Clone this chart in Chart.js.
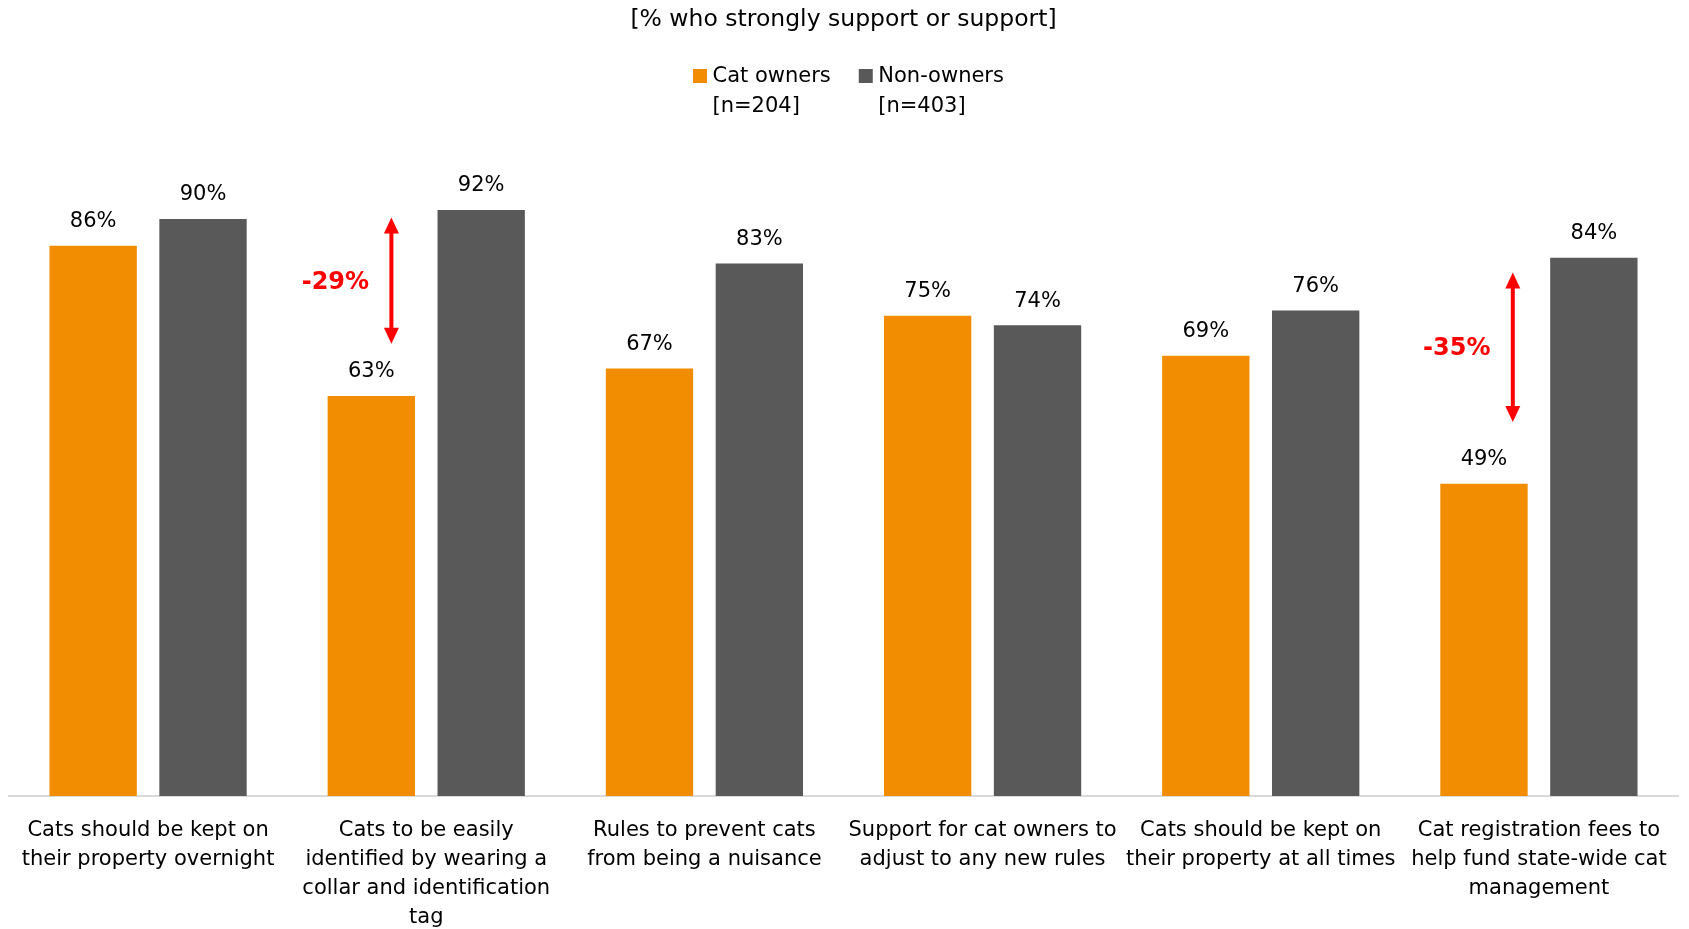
<!DOCTYPE html>
<html>
<head>
<meta charset="utf-8">
<script src="https://cdn.jsdelivr.net/npm/chart.js@4.4.1/dist/chart.umd.min.js"></script>
<style>
html,body{margin:0;padding:0;background:#fff;}
#wrap{width:1689px;height:929px;position:relative;}
</style>
</head>
<body>
<div id="wrap"><canvas id="c" width="1689" height="929"></canvas></div>
<script>
// ---------- data ----------
const chartTitle = "[% who strongly support or support]";
const categories = [
  ["Cats should be kept on", "their property overnight"],
  ["Cats to be easily", "identified by wearing a", "collar and identification", "tag"],
  ["Rules to prevent cats", "from being a nuisance"],
  ["Support for cat owners to", "adjust to any new rules"],
  ["Cats should be kept on", "their property at all times"],
  ["Cat registration fees to", "help fund state-wide cat", "management"]
];
const seriesNames = [["Cat owners", "[n=204]"], ["Non-owners", "[n=403]"]];
// bar heights
const catOwners = [86.4, 62.8, 67.1, 75.4, 69.1, 49.0];
const nonOwners = [90.6, 92.0, 83.6, 73.9, 76.2, 84.5];
// value labels as printed on the chart
const catOwnersLabels = ["86%", "63%", "67%", "75%", "69%", "49%"];
const nonOwnersLabels = ["90%", "92%", "83%", "74%", "76%", "84%"];
// gap annotations (category index, arrow top value, arrow bottom value, label)
const gapCategory = [1, 5];
const gapTop = [90.8, 82.2];
const gapBottom = [71.0, 58.7];
const gapLabels = ["-29%", "-35%"];

// ---------- styles ----------
const FONT = "'DejaVu Sans', sans-serif";
const COLORS = ["#F28C00", "#595959"];
const arrowOffsets = [0.23, 0.33];
const valueLabels = [catOwnersLabels, nonOwnersLabels];

const overlay = {
  id: 'overlay',
  afterDraw(chart) {
    const ctx = chart.ctx;
    const area = chart.chartArea;
    ctx.save();
    // title
    ctx.fillStyle = '#000';
    ctx.textAlign = 'center';
    ctx.textBaseline = 'middle';
    ctx.font = `23.5px ${FONT}`;
    ctx.fillText(chartTitle, (area.left + area.right) / 2, 20);
    // legend
    ctx.font = `21px ${FONT}`;
    ctx.textAlign = 'left';
    let bx = 693;
    seriesNames.forEach((lines, i) => {
      ctx.fillStyle = COLORS[i];
      ctx.fillRect(bx, 69, 14, 14);
      ctx.fillStyle = '#000';
      const tx = bx + 19.5;
      let w = 0;
      lines.forEach((t, j) => {
        ctx.fillText(t, tx, 77 + j * 30);
        w = Math.max(w, ctx.measureText(t).width);
      });
      bx = tx + w + 28;
    });
    // data labels
    ctx.textAlign = 'center';
    ctx.font = `21px ${FONT}`;
    chart.data.datasets.forEach((ds, di) => {
      chart.getDatasetMeta(di).data.forEach((bar, i) => {
        ctx.fillText(valueLabels[di][i], bar.x, bar.y - 24);
      });
    });
    // gap arrows
    const ys = chart.scales.y;
    const meta0 = chart.getDatasetMeta(0);
    gapCategory.forEach((ci, k) => {
      const bar = meta0.data[ci];
      const x = bar.x + bar.width * arrowOffsets[k];
      const y1 = ys.getPixelForValue(gapTop[k]);
      const y2 = ys.getPixelForValue(gapBottom[k]);
      const hl = 16, hw = 7.5;
      ctx.strokeStyle = '#FF0000';
      ctx.fillStyle = '#FF0000';
      ctx.lineWidth = 4;
      ctx.beginPath();
      ctx.moveTo(x, y1 + hl - 1);
      ctx.lineTo(x, y2 - hl + 1);
      ctx.stroke();
      ctx.beginPath();
      ctx.moveTo(x, y1); ctx.lineTo(x - hw, y1 + hl); ctx.lineTo(x + hw, y1 + hl); ctx.closePath();
      ctx.fill();
      ctx.beginPath();
      ctx.moveTo(x, y2); ctx.lineTo(x - hw, y2 - hl); ctx.lineTo(x + hw, y2 - hl); ctx.closePath();
      ctx.fill();
      ctx.font = `bold 24px ${FONT}`;
      ctx.textAlign = 'center';
      ctx.textBaseline = 'middle';
      ctx.fillText(gapLabels[k], x - 56, (y1 + y2) / 2 + 2);
    });
    ctx.restore();
  }
};

new Chart(document.getElementById('c'), {
  type: 'bar',
  data: {
    labels: categories,
    datasets: [
      { label: seriesNames[0].join(' '), data: catOwners, backgroundColor: COLORS[0], borderWidth: 0 },
      { label: seriesNames[1].join(' '), data: nonOwners, backgroundColor: COLORS[1], borderWidth: 0 }
    ]
  },
  options: {
    responsive: false,
    animation: false,
    devicePixelRatio: 1,
    categoryPercentage: 0.79,
    barPercentage: 0.795,
    layout: { padding: { left: 9, right: 11, top: 159, bottom: 0 } },
    plugins: { legend: { display: false }, title: { display: false }, tooltip: { enabled: false } },
    scales: {
      y: { display: false, min: 0, max: 100 },
      x: {
        grid: { display: false, drawTicks: false },
        border: { display: true, color: '#D9D9D9', width: 2 },
        ticks: {
          color: '#000',
          font: { family: FONT, size: 21, lineHeight: 1.38 },
          padding: 20,
          maxRotation: 0,
          minRotation: 0,
          autoSkip: false
        },
        afterFit(scale) { scale.height = 133; }
      }
    }
  },
  plugins: [overlay]
});
</script>
</body>
</html>
